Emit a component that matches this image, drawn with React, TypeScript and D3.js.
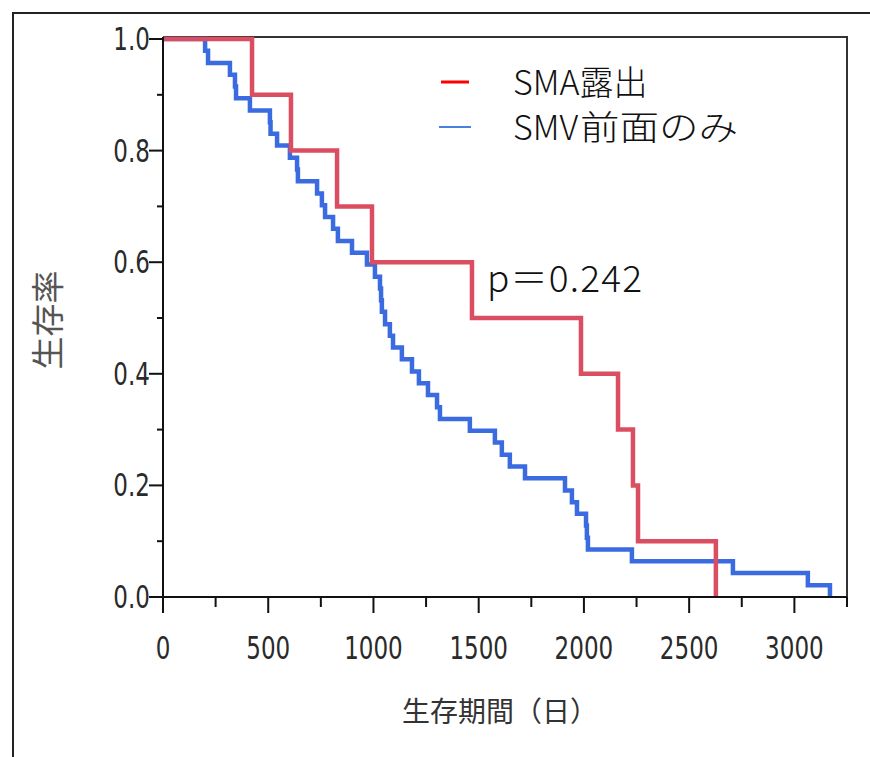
import * as d3 from 'd3'

// SMA露出 group: event days and survival after each event
const redDays = [423, 608, 827, 993, 1468, 1986, 2162, 2233, 2257, 2627]
const redSurv = [0.9, 0.8, 0.7, 0.6, 0.5, 0.4, 0.3, 0.2, 0.1, 0.0]

// SMV前面のみ group
const blueDays = [
  200, 214, 318, 342, 347, 413, 508, 511, 542, 603,
  637, 641, 732, 755, 770, 808, 831, 898, 969, 1007,
  1031, 1036, 1040, 1055, 1078, 1093, 1135, 1183, 1216, 1259,
  1302, 1316, 1458, 1577, 1610, 1648, 1720, 1910, 1943, 1967,
  2010, 2014, 2019, 2228, 2708, 3064, 3169
]
const blueSurv = [
  0.979, 0.957, 0.936, 0.915, 0.894, 0.872, 0.851, 0.830, 0.809, 0.787,
  0.766, 0.745, 0.723, 0.702, 0.681, 0.660, 0.638, 0.617, 0.596, 0.574,
  0.553, 0.532, 0.511, 0.489, 0.468, 0.447, 0.426, 0.404, 0.383, 0.362,
  0.340, 0.319, 0.298, 0.277, 0.255, 0.234, 0.213, 0.191, 0.170, 0.149,
  0.128, 0.106, 0.085, 0.064, 0.043, 0.021, 0.0
]

const xMajor = [0, 500, 1000, 1500, 2000, 2500, 3000]
const xMinor = [250, 750, 1250, 1750, 2250, 2750, 3250]
const yMajor = [0, 0.2, 0.4, 0.6, 0.8, 1.0]
const yMinor = [0.1, 0.3, 0.5, 0.7, 0.9]

const seriesNames = ['SMA露出', 'SMV前面のみ']
const pText = 'p＝0.242'
const xTitle = '生存期間（日）'
const yTitle = '生存率'

const W = 870
const H = 757
const left = 163
const right = 847
const top = 37
const bottom = 597

// narrow, tall digits like the original's Tahoma labels
const tickFont = '"DejaVu Sans", sans-serif'
const tickSize = 32
const tickSqueeze = 0.72
const cjkFont = '"Noto Sans CJK JP", "Noto Sans", sans-serif'

export default function App() {
  const x = d3.scaleLinear().domain([0, 3250]).range([left, right])
  const y = d3.scaleLinear().domain([0, 1]).range([bottom, top + 2])

  const line = d3
    .line<[number, number]>()
    .x((d) => x(d[0]))
    .y((d) => y(d[1]))
    .curve(d3.curveStepAfter)

  const redPts: [number, number][] = [[0, 1], ...redDays.map((t, i) => [t, redSurv[i]] as [number, number])]
  const bluePts: [number, number][] = [[0, 1], ...blueDays.map((t, i) => [t, blueSurv[i]] as [number, number])]

  return (
    <svg width={W} height={H} style={{ position: 'absolute', left: 0, top: 0, background: '#fff' }}>
      {/* outer screenshot border */}
      <path d={`M13,${H} L13,13 L${W},13`} fill="none" stroke="#222" strokeWidth={2} />

      {/* frame */}
      <path d={`M${left},${top} L${right},${top} L${right},${bottom}`} fill="none" stroke="#333" strokeWidth={2} />

      {/* curves */}
      <path d={line(bluePts) || ''} fill="none" stroke="#3a6be0" strokeWidth={4.5} />
      <path d={line(redPts) || ''} fill="none" stroke="#db4d61" strokeWidth={4.5} />

      {/* axes */}
      <line x1={left} x2={left} y1={top} y2={bottom} stroke="#111" strokeWidth={2} />
      <line x1={left} x2={right} y1={bottom} y2={bottom} stroke="#111" strokeWidth={2} />

      {yMajor.map((v) => (
        <g key={'ym' + v}>
          <line x1={left - 14} x2={left} y1={y(v)} y2={y(v)} stroke="#111" strokeWidth={2} />
          <text
            transform={`translate(${left - 13},${y(v)}) scale(${tickSqueeze},1)`}
            textAnchor="end"
            dominantBaseline="central"
            fontFamily={tickFont}
            fontSize={tickSize}
            fill="#2a2a2a"
          >
            {v.toFixed(1)}
          </text>
        </g>
      ))}
      {yMinor.map((v) => (
        <line key={'yn' + v} x1={left - 6} x2={left} y1={y(v)} y2={y(v)} stroke="#111" strokeWidth={2} />
      ))}

      {xMajor.map((v) => (
        <g key={'xm' + v}>
          <line x1={x(v)} x2={x(v)} y1={bottom} y2={bottom + 16} stroke="#111" strokeWidth={2} />
          <text
            transform={`translate(${x(v)},659) scale(${tickSqueeze},1)`}
            textAnchor="middle"
            fontFamily={tickFont}
            fontSize={tickSize}
            fill="#2a2a2a"
          >
            {v}
          </text>
        </g>
      ))}
      {xMinor.map((v) => (
        <line key={'xn' + v} x1={x(v)} x2={x(v)} y1={bottom} y2={bottom + 10} stroke="#111" strokeWidth={2} />
      ))}

      <text x={500} y={722} textAnchor="middle" fontFamily={cjkFont} fontSize={28} fill="#333">
        {xTitle}
      </text>
      <text
        transform="translate(46,320) rotate(-90)"
        textAnchor="middle"
        dominantBaseline="central"
        fontFamily={cjkFont}
        fontSize={33}
        fill="#555"
      >
        {yTitle}
      </text>

      {/* legend */}
      <line x1={441} x2={469} y1={82} y2={82} stroke="#ff0000" strokeWidth={3} />
      <line x1={439} x2={471} y1={127} y2={127} stroke="#4a80e0" strokeWidth={2} />
      <text x={513} y={95} fontFamily={cjkFont} fontSize={34} fontWeight={300} fill="#111">
        {seriesNames[0]}
      </text>
      <text x={513} y={140} fontFamily={cjkFont} fontSize={34} fontWeight={300} fill="#111">
        {seriesNames[1].slice(0, 3)}
        <tspan x={580} textLength={158} lengthAdjust="spacingAndGlyphs">
          {seriesNames[1].slice(3)}
        </tspan>
      </text>

      <text x={487} y={292} fontFamily={cjkFont} fontSize={37} fontWeight={300} fill="#111" textLength={155} lengthAdjust="spacing">
        {pText}
      </text>
    </svg>
  )
}
